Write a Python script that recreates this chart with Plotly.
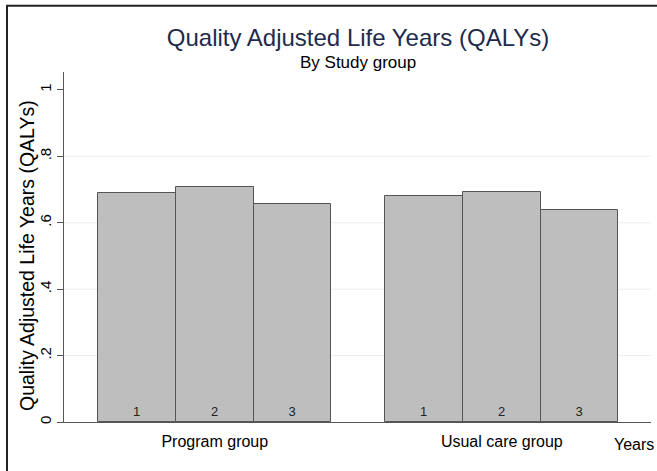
import plotly.graph_objects as go

# ---- data ----
groups = ["Program group", "Usual care group"]
years = ["1", "2", "3"]
program_values = [0.691, 0.709, 0.658]
usual_values = [0.681, 0.692, 0.639]
ytick_vals = [0, 0.2, 0.4, 0.6, 0.8, 1]
ytick_text = ["0", ".2", ".4", ".6", ".8", "1"]
grid_vals = [0.2, 0.4, 0.6, 0.8]

FONT = "Arial, 'Liberation Sans', sans-serif"
GROUP_GAP = 0.694  # gap between groups, in bar widths

series = [program_values, usual_values]
xs, ys, texts = [], [], []
for g, vals in enumerate(series):
    base = g * (len(years) + GROUP_GAP)
    for k, v in enumerate(vals):
        xs.append(base + k)
        ys.append(v)
        texts.append(years[k])
group_centers = [g * (len(years) + GROUP_GAP) + (len(years) - 1) / 2 for g in range(len(groups))]

fig = go.Figure()
fig.add_trace(go.Bar(
    x=xs, y=ys, width=1.0,
    marker=dict(color="#bebebe", line=dict(color="#555555", width=1)),
    text=texts, textposition="inside", insidetextanchor="start",
    textangle=0, textfont=dict(family=FONT, size=13, color="#222222"),
    hoverinfo="skip", showlegend=False,
))

left = -0.5 - 0.441
right = xs[-1] + 0.5 + 0.42

shapes = [
    dict(type="line", xref="paper", yref="y", x0=0, x1=1, y0=v, y1=v,
         line=dict(color="#ececec", width=1), layer="below")
    for v in grid_vals
]
# outer frame (cropped on right/bottom in the reference)
shapes.append(dict(type="rect", xref="paper", yref="paper",
                   x0=-0.0971, x1=1.3, y0=-0.4, y1=1.189,
                   line=dict(color="#222222", width=2), layer="above"))

fig.update_layout(
    width=657, height=471,
    margin=dict(l=64, r=6, t=72, b=49, autoexpand=False),
    paper_bgcolor="white", plot_bgcolor="white",
    font=dict(family=FONT, color="#000000"),
    title=dict(text="Quality Adjusted Life Years (QALYs)",
               x=358 / 657, xanchor="center", y=1 - 38 / 471, yanchor="middle",
               xref="container", yref="container",
               font=dict(family=FONT, size=24, color="#1e2b4a")),
    bargap=0,
    shapes=shapes,
    annotations=[
        dict(text="By Study group", xref="paper", yref="paper",
             x=(358 - 64) / 587, y=(422 - 62) / 350, xanchor="center", yanchor="middle",
             showarrow=False, font=dict(family=FONT, size=17, color="#000000")),
        dict(text="Years", xref="paper", yref="paper",
             x=(612 - 64) / 587, y=(422 - 444) / 350, xanchor="left", yanchor="middle",
             showarrow=False, font=dict(family=FONT, size=16, color="#000000")),
        dict(text="Quality Adjusted Life Years (QALYs)", xref="paper", yref="paper",
             x=(27 - 64) / 587, y=(422 - 256) / 350, xanchor="center", yanchor="middle",
             textangle=-90, showarrow=False,
             font=dict(family=FONT, size=19.5, color="#000000")),
    ],
)

fig.update_xaxes(
    range=[left, right], showgrid=False, zeroline=False, automargin=False,
    showline=True, linecolor="#555555", linewidth=1,
    tickmode="array", tickvals=group_centers, ticktext=groups,
    ticks="", ticklabelstandoff=5,
    tickfont=dict(family=FONT, size=16, color="#000000"),
    fixedrange=True,
)
fig.update_yaxes(
    range=[0, 1.054], showgrid=False, zeroline=False, automargin=False,
    showline=True, linecolor="#555555", linewidth=1,
    tickmode="array", tickvals=ytick_vals, ticktext=ytick_text,
    ticks="outside", ticklen=6, tickcolor="#555555", tickangle=-90,
    ticklabelstandoff=0,
    tickfont=dict(family=FONT, size=15, color="#000000"),
    fixedrange=True,
)

fig.write_html("out.html", config={"displayModeBar": False},
               post_script="document.body.style.margin='0px';")
